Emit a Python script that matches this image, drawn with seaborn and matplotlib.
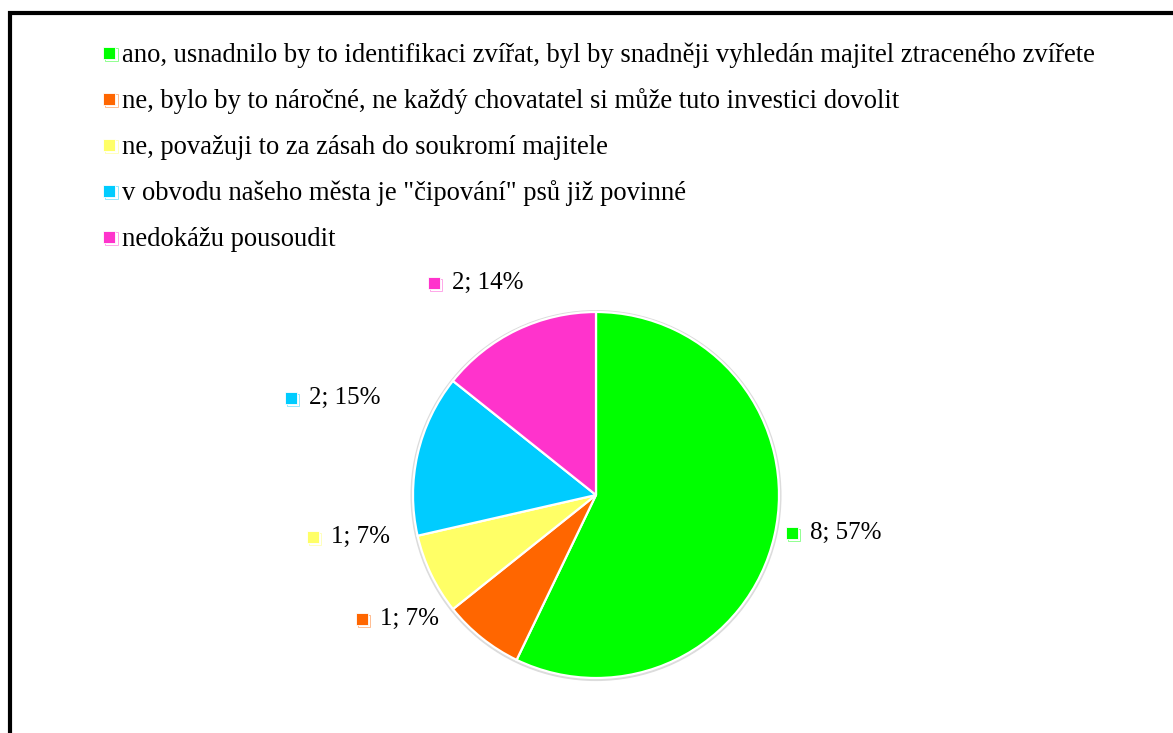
"""
plot.py - pie chart of survey answers about dog microchipping.
"""

import matplotlib
matplotlib.use("Agg")
import matplotlib.pyplot as plt
from matplotlib.patches import Rectangle
import seaborn as sns

# ---------------------------------------------------------------------------
# Data
# ---------------------------------------------------------------------------
CATEGORIES = [
    "ano, usnadnilo by to identifikaci zvířat, byl by snadněji vyhledán majitel ztraceného zvířete",
    "ne, bylo by to náročné, ne každý chovatatel si může tuto investici dovolit",
    "ne, považuji to za zásah do soukromí majitele",
    'v obvodu našeho města je "čipování" psů již povinné',
    "nedokážu pousoudit",
]
COUNTS = [8, 1, 1, 2, 2]
PERCENT_LABELS = ["57%", "7%", "7%", "15%", "14%"]
COLORS = ["#00FF00", "#FF6600", "#FFFF66", "#00CCFF", "#FF33CC"]

# label anchors (left edge of the little marker, in pie-radius units)
LABEL_POS = [(1.04, -0.21), (-1.31, -0.68), (-1.58, -0.23), (-1.70, 0.53), (-0.92, 1.16)]

# ---------------------------------------------------------------------------
# Style
# ---------------------------------------------------------------------------
sns.set_theme(style="white")
plt.rcParams["font.family"] = ["Liberation Serif", "DejaVu Serif"]
plt.rcParams["text.color"] = "black"
palette = sns.color_palette(COLORS)

W, H = 1173, 733
R = 183.0          # pie radius in pixels
CX, CY = 596, 495  # pie centre in pixels (from top)
FS = 18
LEG_FS = 19.2

fig = plt.figure(figsize=(W / 100, H / 100), dpi=100)
fig.patch.set_facecolor("white")

# outer frame (right and bottom edges run off the picture)
fig.patches.append(Rectangle((10 / W, -0.1), 1.2, 1.1 - 13 / H,
                             transform=fig.transFigure, fill=False,
                             edgecolor="black", linewidth=3.0))

half = 260.0
ax = fig.add_axes([(CX - half) / W, (H - CY - half) / H, 2 * half / W, 2 * half / H])
ax.axis("off")

# faint shadow ring behind the pie
ax.add_patch(plt.Circle((0.0, -0.003), 1.01, color="#dcdcdc", zorder=0))

wedges, _ = ax.pie(COUNTS, colors=palette, startangle=90, counterclock=False,
                   wedgeprops={"edgecolor": "white", "linewidth": 1.6},
                   radius=1.0)
lim = half / R
ax.set_xlim(-lim, lim)
ax.set_ylim(-lim, lim)

# data labels with small colour markers
ms = 12 / R
for (lx, ly), n, pct, col in zip(LABEL_POS, COUNTS, PERCENT_LABELS, palette):
    ax.add_patch(Rectangle((lx + 2 / R, ly - ms / 2 - 2 / R), ms, ms,
                           facecolor="none", edgecolor=col, linewidth=0.6,
                           clip_on=False, alpha=0.5))
    ax.add_patch(Rectangle((lx, ly - ms / 2), ms, ms, facecolor=col,
                           edgecolor="white", linewidth=0.6, clip_on=False))
    ax.text(lx + 24 / R, ly, f"{n}; {pct}", fontsize=FS, ha="left",
            va="center", color="black", clip_on=False)

# legend, evenly spaced rows (pixels from top)
row0, step = 53, 46
for i, (cat, col) in enumerate(zip(CATEGORIES, palette)):
    yc = row0 + i * step
    fig.patches.append(Rectangle((105 / W, 1 - (yc + 8) / H), 13 / W, 13 / H,
                                 transform=fig.transFigure, facecolor="none",
                                 edgecolor=col, linewidth=0.6, alpha=0.5))
    fig.patches.append(Rectangle((103 / W, 1 - (yc + 6) / H), 12 / W, 12 / H,
                                 transform=fig.transFigure, facecolor=col,
                                 edgecolor="white", linewidth=0.6))
    fig.text(122 / W, 1 - (yc + 9) / H, cat, fontsize=LEG_FS, ha="left",
             va="baseline", color="black")

fig.savefig("out.png", dpi=100, facecolor="white")
plt.close(fig)
